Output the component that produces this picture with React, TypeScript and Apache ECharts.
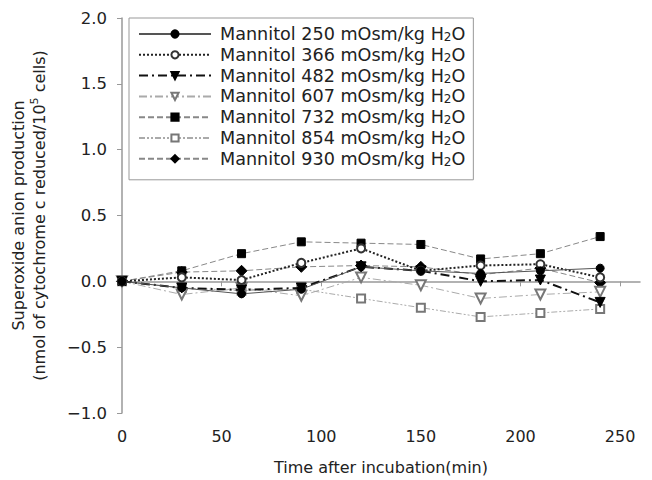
import React, { useEffect, useRef } from "react";
import * as echarts from "echarts";

const times = [0, 30, 60, 90, 120, 150, 180, 210, 240];
const seriesNames = [
  "Mannitol 250 mOsm/kg H2O",
  "Mannitol 366 mOsm/kg H2O",
  "Mannitol 482 mOsm/kg H2O",
  "Mannitol 607 mOsm/kg H2O",
  "Mannitol 732 mOsm/kg H2O",
  "Mannitol 854 mOsm/kg H2O",
  "Mannitol 930 mOsm/kg H2O",
];
const m250 = [0, -0.05, -0.095, -0.06, 0.11, 0.08, 0.06, 0.08, 0.10];
const m366 = [0, 0.03, 0.01, 0.14, 0.25, 0.08, 0.12, 0.13, 0.03];
const m482 = [0, -0.05, -0.065, -0.05, 0.11, 0.08, 0.0, 0.01, -0.16];
const m607 = [0, -0.10, -0.05, -0.11, 0.03, -0.03, -0.13, -0.10, -0.08];
const m732 = [0, 0.08, 0.21, 0.30, 0.29, 0.28, 0.17, 0.21, 0.34];
const m854 = [0, -0.05, -0.07, -0.06, -0.13, -0.20, -0.27, -0.24, -0.21];
const m930 = [0, 0.07, 0.08, 0.11, 0.12, 0.11, 0.05, 0.10, -0.01];
const xTicks = [0, 50, 100, 150, 200, 250];

const FONT = "DejaVu Sans";

export default function App() {
  const ref = useRef<HTMLDivElement>(null);
  useEffect(() => {
    document.body.style.margin = "0";
    const chart = echarts.init(ref.current!, null, { renderer: "svg" });
    const values = [m250, m366, m482, m607, m732, m854, m930];
    const styles = [
      { symbol: "circle", size: 8, rotate: 0, mc: "#000", lc: "#555", lw: 1, lt: "solid" as any },
      { symbol: "emptyCircle", size: 8, rotate: 0, mc: "#333", lc: "#222", lw: 2, lt: [2, 2] },
      { symbol: "triangle", size: 10, rotate: 180, mc: "#000", lc: "#111", lw: 2, lt: [9, 4, 2, 4] },
      { symbol: "emptyTriangle", size: 10, rotate: 180, mc: "#777", lc: "#aaa", lw: 1, lt: [8, 3, 2, 3] },
      { symbol: "rect", size: 8, rotate: 0, mc: "#000", lc: "#888", lw: 1, lt: [6, 3] },
      { symbol: "emptyRect", size: 8, rotate: 0, mc: "#777", lc: "#aaa", lw: 1, lt: [6, 2, 2, 2, 2, 2] },
      { symbol: "diamond", size: 11, rotate: 0, mc: "#000", lc: "#888", lw: 1, lt: [6, 3] },
    ];
    const series = seriesNames.map((name, i) => ({
      name,
      type: "line",
      data: times.map((t, j) => [t, values[i][j]]),
      symbol: styles[i].symbol,
      symbolSize: styles[i].size,
      symbolRotate: styles[i].rotate,
      itemStyle: { color: styles[i].mc, borderColor: styles[i].mc, borderWidth: 1 },
      lineStyle: { color: styles[i].lc, width: styles[i].lw, type: styles[i].lt },
      z: 10 - i,
    }));
    chart.setOption({
      animation: false,
      backgroundColor: "#fff",
      grid: { left: 120, top: 18, right: 12, bottom: 67 },
      legend: {
        orient: "vertical",
        left: 129,
        top: 18,
        width: 349,
        padding: [7, 8, 12, 9],
        borderColor: "#999",
        borderWidth: 1,
        backgroundColor: "#fff",
        itemWidth: 72,
        itemHeight: 9,
        itemGap: 2.8,
        data: seriesNames,
        formatter: (n: string) => n.replace("H2O", "H{sub|2}O"),
        textStyle: {
          fontFamily: FONT,
          fontSize: 17.6,
          color: "#222",
          lineHeight: 18,
          padding: [0, 0, 0, 4],
          rich: {
            sub: { fontFamily: FONT, fontSize: 12, color: "#222", verticalAlign: "bottom", lineHeight: 10 },
          },
        },
      },
      xAxis: {
        type: "value",
        min: 0,
        max: 260,
        interval: 50,
        name: "Time after incubation(min)",
        nameLocation: "middle",
        nameGap: 46,
        nameTextStyle: { fontFamily: FONT, fontSize: 16, color: "#222" },
        axisLine: { lineStyle: { color: "#999", width: 1.5 } },
        axisTick: { length: 5, lineStyle: { color: "#999" }, customValues: xTicks },
        axisLabel: { customValues: xTicks, margin: 15, fontFamily: FONT, fontSize: 16, color: "#222" },
        splitLine: { show: false },
      },
      yAxis: {
        type: "value",
        min: -1,
        max: 2,
        interval: 0.5,
        name: "Superoxide anion production\n(nmol of cytochrome c reduced/10{sup|5} cells)",
        nameLocation: "middle",
        nameRotate: 90,
        nameGap: 72,
        nameTextStyle: {
          fontFamily: FONT,
          fontSize: 16,
          color: "#222",
          lineHeight: 21,
          rich: {
            sup: { fontFamily: FONT, fontSize: 11, color: "#222", verticalAlign: "top", lineHeight: 21, padding: [0, 0, 6, 0] },
          },
        },
        axisLine: { show: true, lineStyle: { color: "#999", width: 1.5 } },
        axisTick: { show: true, length: 5, lineStyle: { color: "#999" } },
        axisLabel: {
          margin: 15,
          fontFamily: FONT,
          fontSize: 16.5,
          color: "#222",
          formatter: (v: number) => v.toFixed(1).replace("-", "\u2212"),
        },
        splitLine: { show: false },
      },
      series,
    });
    return () => chart.dispose();
  }, []);
  return <div ref={ref} style={{ width: 652, height: 480, position: "absolute", left: 0, top: 0 }} />;
}
